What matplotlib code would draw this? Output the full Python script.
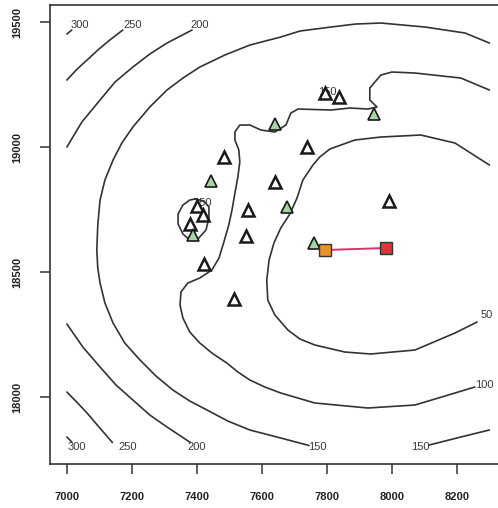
import matplotlib.pyplot as plt

plt.rcParams['font.family'] = ['Liberation Sans', 'DejaVu Sans']

# contour lines, level by level (easting / northing)
c50_x = [8300, 8194, 8089, 7966, 7886, 7809, 7778, 7757, 7726, 7708, 7686, 7658, 7637, 7622,
         7615, 7618, 7640, 7680, 7717, 7763, 7855, 7935, 8071, 8194, 8262]
c50_y = [18928, 19016, 19048, 19040, 19028, 18992, 18960, 18928, 18868, 18796, 18732, 18676,
         18616, 18548, 18468, 18388, 18328, 18268, 18232, 18208, 18180, 18172, 18188, 18256,
         18300]

c100_x = [8300, 8212, 8071, 8000, 7966, 7932, 7932, 7954, 7926, 7871, 7812, 7711, 7689,
          7674, 7640, 7597, 7563, 7532, 7517, 7517, 7529, 7532, 7526, 7517, 7508, 7498,
          7483, 7468, 7446, 7409, 7372, 7351, 7348, 7357, 7378, 7409, 7446, 7492, 7526,
          7563, 7609, 7658, 7763, 7926, 8071, 8194, 8255]
c100_y = [19228, 19276, 19296, 19300, 19288, 19236, 19188, 19160, 19152, 19156, 19148, 19152,
          19136, 19088, 19060, 19068, 19088, 19088, 19060, 19028, 18988, 18940, 18880, 18816,
          18748, 18688, 18620, 18556, 18508, 18476, 18456, 18420, 18368, 18316, 18260, 18216,
          18176, 18136, 18100, 18068, 18040, 18016, 17976, 17956, 17968, 18016, 18040]

c150_x = [8300, 8225, 8102, 7966, 7889, 7812, 7717, 7658, 7563, 7486, 7409, 7357, 7308,
          7255, 7203, 7169, 7142, 7117, 7102, 7095, 7092, 7095, 7102, 7117, 7142, 7178,
          7225, 7274, 7326, 7378, 7431, 7495, 7563, 7658, 7745]
c150_y = [19416, 19456, 19480, 19496, 19492, 19480, 19464, 19440, 19408, 19368, 19320, 19276,
          19228, 19160, 19080, 19016, 18948, 18868, 18788, 18688, 18588, 18516, 18456, 18376,
          18296, 18216, 18148, 18084, 18028, 17984, 17948, 17904, 17868, 17836, 17806]
c150b_x = [8115, 8212, 8300]
c150b_y = [17808, 17840, 17868]
c150_loop_x = [7394, 7422, 7437, 7437, 7428, 7403, 7378, 7357, 7342, 7342, 7357, 7378, 7394]
c150_loop_y = [18792, 18784, 18760, 18716, 18668, 18632, 18628, 18652, 18692, 18732, 18768,
               18788, 18792]

c200_x = [7000, 7046, 7102, 7148, 7203, 7255, 7308, 7385]
c200_y = [19000, 19100, 19188, 19260, 19320, 19372, 19416, 19468]
c200b_x = [7000, 7049, 7102, 7151, 7203, 7255, 7308, 7380]
c200b_y = [18292, 18200, 18120, 18048, 17988, 17928, 17880, 17818]

c250_x = [7000, 7030, 7062, 7097, 7132, 7172]
c250_y = [19268, 19310, 19348, 19390, 19428, 19468]
c250b_x = [7000, 7030, 7062, 7100, 7140]
c250b_y = [18020, 17980, 17936, 17878, 17818]

c300_x = [7000, 7015]
c300_y = [19452, 19468]
c300b_x = [7000, 7015]
c300b_y = [17840, 17820]

# contour labels: text, x, y
lab_text = ['300', '250', '200', '300', '250', '200', '150', '150', '100', '50', '150', '150']
lab_x = [7040, 7203, 7409, 7031, 7188, 7400, 7772, 8086, 8285, 8292, 7418, 7800]
lab_y = [19488, 19488, 19488, 17800, 17800, 17800, 17800, 17800, 18048, 18330, 18776, 19220]

# sites
open_x = [7483, 7557, 7551, 7422, 7514, 7738, 7640, 7991, 7794, 7837, 7400, 7418, 7378]
open_y = [18960, 18748, 18644, 18532, 18392, 19000, 18860, 18784, 19216, 19200, 18764, 18728,
          18692]
green_x = [7443, 7640, 7945, 7677, 7760, 7388]
green_y = [18864, 19092, 19132, 18760, 18616, 18648]

# the two candidate locations and the link between them
orange_xy = (7794, 18588)
red_xy = (7982, 18596)

fig = plt.figure(figsize=(4.98, 5.08), dpi=100)
ax = fig.add_axes([0.1004, 0.0866, 0.9163, 0.9035])

line_kw = dict(color='#333333', lw=1.2, solid_capstyle='round', solid_joinstyle='round')
for xs, ys in [(c50_x, c50_y), (c100_x, c100_y), (c150_x, c150_y), (c150b_x, c150b_y),
               (c150_loop_x, c150_loop_y), (c200_x, c200_y), (c200b_x, c200b_y),
               (c250_x, c250_y), (c250b_x, c250b_y), (c300_x, c300_y), (c300b_x, c300b_y)]:
    ax.plot(xs, ys, **line_kw)

for t, x, y in zip(lab_text, lab_x, lab_y):
    ax.text(x, y, t, fontsize=8, color='#3a3a3a', ha='center', va='center')

ax.plot([orange_xy[0], red_xy[0]], [orange_xy[1], red_xy[1]], color='#e0306a', lw=1.4,
        zorder=3)

ax.plot(open_x, open_y, linestyle='none', marker='^', markersize=8.5,
        markerfacecolor='white', markeredgecolor='#1a1a1a', markeredgewidth=1.8, zorder=4)
ax.plot(green_x, green_y, linestyle='none', marker='^', markersize=8.5,
        markerfacecolor='#a6d4a6', markeredgecolor='#1a1a1a', markeredgewidth=1.2, zorder=4)

ax.plot(*orange_xy, marker='s', markersize=8.5, markerfacecolor='#e8922a',
        markeredgecolor='#333333', markeredgewidth=1.0, zorder=5)
ax.plot(*red_xy, marker='s', markersize=8.5, markerfacecolor='#d8383a',
        markeredgecolor='#333333', markeredgewidth=1.0, zorder=5)

ax.set_xlim(6948, 8352)
ax.set_ylim(17732, 19568)

ax.set_xticks([7000, 7200, 7400, 7600, 7800, 8000, 8200])
ax.set_yticks([18000, 18500, 19000, 19500])
ax.set_yticklabels(['18000', '18500', '19000', '19500'], rotation=90, va='center')
ax.tick_params(direction='out', length=7, width=1.1, color='#333333', pad=13,
               labelsize=8)
for lab in ax.get_xticklabels() + ax.get_yticklabels():
    lab.set_fontweight('bold')
    lab.set_color('#222222')

for side in ['left', 'bottom', 'top', 'right']:
    ax.spines[side].set_color('#333333')
    ax.spines[side].set_linewidth(1.2)

fig.savefig('out.png', dpi=100)
